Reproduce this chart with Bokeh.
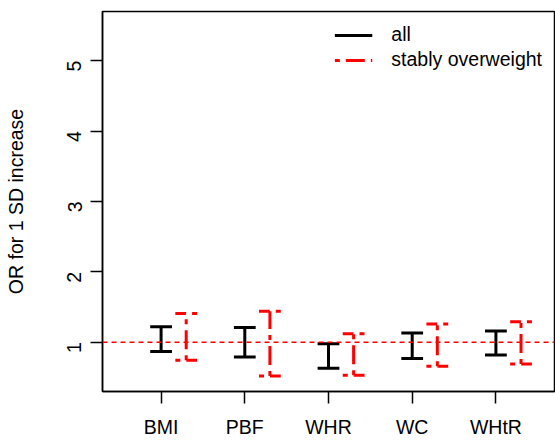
import math
from bokeh.plotting import figure
from bokeh.models import FixedTicker, Span, ColumnDataSource, Legend, LegendItem
from bokeh.embed import file_html
from bokeh.resources import INLINE

# ---- data ----
categories = ["BMI", "PBF", "WHR", "WC", "WHtR"]
all_lower = [0.87, 0.79, 0.63, 0.77, 0.82]
all_upper = [1.22, 1.21, 0.98, 1.13, 1.16]
ow_lower = [0.745, 0.52, 0.53, 0.66, 0.69]
ow_upper = [1.41, 1.44, 1.12, 1.26, 1.29]
y_ticks = [1, 2, 3, 4, 5]

# ---- layout / styling ----
OFFSET = 0.3
CAP = 0.13
FONT = "Liberation Sans"
FS = "19.5px"

x_pos = [i + 1 for i in range(len(categories))]
x_ow = [x + OFFSET for x in x_pos]

p = figure(width=555, height=441, output_backend="svg", toolbar_location=None,
           x_range=(0.3, 5.7), y_range=(0.3, 5.7),
           min_border_left=102, min_border_right=1, min_border_top=11,
           min_border_bottom=50)
p.grid.visible = False
p.outline_line_color = "black"
p.outline_line_width = 1.5
p.background_fill_color = "white"
p.border_fill_color = "white"

# reference line at OR = 1
p.add_layout(Span(location=1, dimension="width", line_color="red",
                  line_width=1.4, line_dash="5 4"))

# "all": solid black error bars
src_all = ColumnDataSource(dict(x=x_pos, lo=all_lower, hi=all_upper,
                                xl=[x - CAP for x in x_pos],
                                xr=[x + CAP for x in x_pos]))
r_all = p.segment(x0="x", y0="lo", x1="x", y1="hi", source=src_all,
                  line_color="black", line_width=3)
p.segment(x0="xl", y0="hi", x1="xr", y1="hi", source=src_all,
          line_color="black", line_width=3)
p.segment(x0="xl", y0="lo", x1="xr", y1="lo", source=src_all,
          line_color="black", line_width=3)

# "stably overweight": red dot-dash error bars
DASH = "5 6 19 6"
src_ow = ColumnDataSource(dict(x=x_ow, lo=ow_lower, hi=ow_upper,
                               xl=[x - CAP for x in x_ow],
                               xr=[x + CAP for x in x_ow]))
r_ow = p.segment(x0="x", y0="lo", x1="x", y1="hi", source=src_ow,
                 line_color="red", line_width=3, line_dash=DASH)
p.segment(x0="xr", y0="hi", x1="xl", y1="hi", source=src_ow,
          line_color="red", line_width=3, line_dash=DASH)
p.segment(x0="xl", y0="lo", x1="xr", y1="lo", source=src_ow,
          line_color="red", line_width=3, line_dash=DASH)

# axes
p.xaxis.ticker = FixedTicker(ticks=x_pos)
p.xaxis.major_label_overrides = {x: c for x, c in zip(x_pos, categories)}
p.yaxis.ticker = FixedTicker(ticks=y_ticks)
p.yaxis.major_label_orientation = math.pi / 2
p.yaxis.axis_label = "OR for 1 SD increase"

for ax in (p.xaxis, p.yaxis):
    ax.axis_line_color = "black"
    ax.axis_line_width = 1.5
    ax.major_tick_line_color = "black"
    ax.major_tick_line_width = 1.5
    ax.major_tick_out = 12
    ax.major_tick_in = 0
    ax.minor_tick_line_color = None
    ax.major_label_text_font = FONT
    ax.major_label_text_font_size = FS
    ax.major_label_text_color = "black"
    ax.axis_label_text_font = FONT
    ax.axis_label_text_font_size = FS
    ax.axis_label_text_font_style = "normal"
    ax.axis_label_text_color = "black"

p.xaxis.major_label_standoff = 12
p.yaxis.major_label_standoff = 16
p.yaxis.axis_label_standoff = 31

legend = Legend(items=[LegendItem(label="all", renderers=[r_all]),
                       LegendItem(label="stably overweight", renderers=[r_ow])],
                location="top_right")
legend.label_text_font = FONT
legend.label_text_font_size = FS
legend.label_text_color = "black"
legend.glyph_width = 38
legend.glyph_height = 22
legend.label_standoff = 19
legend.spacing = 2
legend.padding = 12
legend.margin = 0
legend.border_line_alpha = 0
legend.background_fill_alpha = 0
p.add_layout(legend)

open("out.html", "w").write(file_html(p, INLINE))
